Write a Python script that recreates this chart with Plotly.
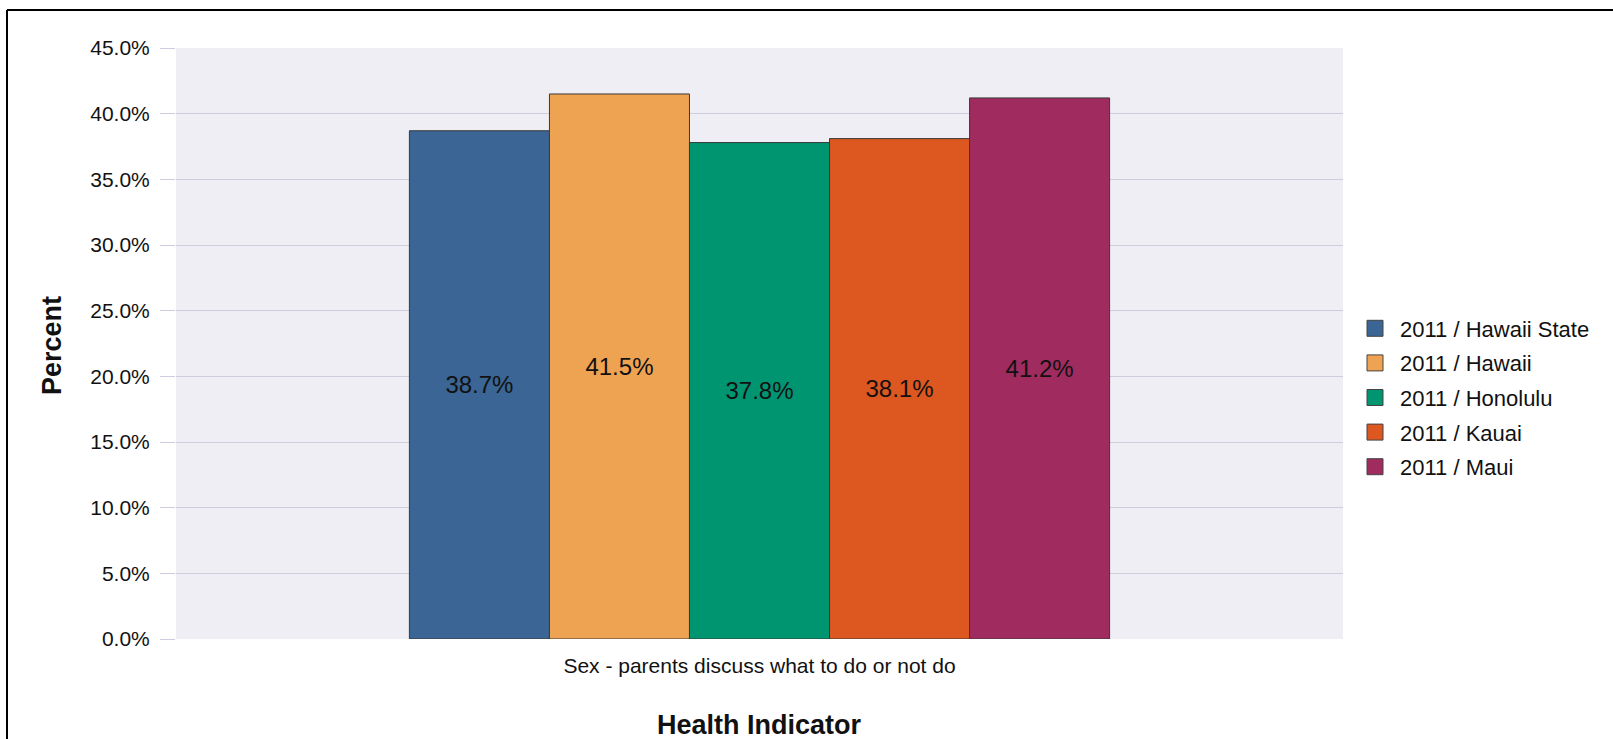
import plotly.graph_objects as go

categories = ["Sex - parents discuss what to do or not do"]
series_names = ["2011 / Hawaii State", "2011 / Hawaii", "2011 / Honolulu", "2011 / Kauai", "2011 / Maui"]
series_values = [38.7, 41.5, 37.8, 38.1, 41.2]
series_colors = ["#3A6595", "#EEA353", "#009571", "#DD5720", "#A02C5F"]
y_tick_values = [0, 5, 10, 15, 20, 25, 30, 35, 40, 45]
y_tick_labels = ["0.0%", "5.0%", "10.0%", "15.0%", "20.0%", "25.0%", "30.0%", "35.0%", "40.0%", "45.0%"]
x_title = "Health Indicator"
y_title = "Percent"

W, H = 1613, 739
ML, MR, MT, MB = 176, 270, 48, 100
PW, PH = W - ML - MR, H - MT - MB

FONT = "Liberation Sans, Arial, sans-serif"

fig = go.Figure()
for name, val, col in zip(series_names, series_values, series_colors):
    fig.add_trace(go.Bar(
        x=categories, y=[val], name=name, legendgroup=name,
        marker=dict(color=col, line=dict(color="#3a3a3a", width=1)),
        text=[f"{val:.1f}%"], textposition="inside", insidetextanchor="middle",
        textangle=0, constraintext="none",
        textfont=dict(family=FONT, size=24, color="#111111"),
        showlegend=False, hoverinfo="skip",
    ))
    fig.add_trace(go.Scatter(
        x=[None], y=[None], mode="markers", name=name, legendgroup=name,
        marker=dict(symbol="square", size=16, color=col, line=dict(color="#444444", width=1)),
        showlegend=True,
    ))

def px_x(px):
    return (px - ML) / PW

def px_y(py):
    return (H - MB - py) / PH

fig.update_layout(
    width=W, height=H,
    margin=dict(l=ML, r=MR, t=MT, b=MB, autoexpand=False),
    paper_bgcolor="white",
    plot_bgcolor="#EFEEF4",
    barmode="group", bargap=0.4, bargroupgap=0,
    font=dict(family=FONT, size=21, color="#111111"),
    legend=dict(
        x=px_x(1350), y=px_y(397.5), xanchor="left", yanchor="middle",
        itemwidth=40, font=dict(family=FONT, size=22, color="#111111"),
        bgcolor="rgba(0,0,0,0)", tracegroupgap=3,
    ),
    xaxis=dict(
        showgrid=False, showline=False, zeroline=False, automargin=False,
        ticks="", ticklabelstandoff=12,
        tickfont=dict(family=FONT, size=21, color="#111111"),
    ),
    yaxis=dict(
        range=[0, 45], tickmode="array", tickvals=y_tick_values, ticktext=y_tick_labels,
        showgrid=True, gridcolor="#CDCDE0", gridwidth=1,
        zeroline=False, showline=False, automargin=False,
        ticks="outside", ticklen=15, tickcolor="#CDCDE0", tickwidth=1,
        ticklabelstandoff=6,
        tickfont=dict(family=FONT, size=21, color="#111111"),
    ),
    annotations=[
        dict(text=f"<b>{x_title}</b>", xref="paper", yref="paper",
             x=0.5, y=px_y(725), xanchor="center", yanchor="middle", showarrow=False,
             font=dict(family=FONT, size=27, color="#111111")),
        dict(text=f"<b>{y_title}</b>", xref="paper", yref="paper", textangle=-90,
             x=px_x(52), y=px_y(346), xanchor="center", yanchor="middle", showarrow=False,
             font=dict(family=FONT, size=27, color="#111111")),
    ],
    shapes=[
        dict(type="line", xref="paper", yref="paper",
             x0=px_x(7), x1=px_x(7), y0=px_y(800), y1=px_y(10),
             line=dict(color="black", width=2)),
        dict(type="line", xref="paper", yref="paper",
             x0=px_x(7), x1=px_x(1700), y0=px_y(10), y1=px_y(10),
             line=dict(color="black", width=2)),
    ],
)

fig.write_html("out.html", config={"displayModeBar": False},
               post_script="document.body.style.margin='0';document.body.style.overflow='hidden';")
